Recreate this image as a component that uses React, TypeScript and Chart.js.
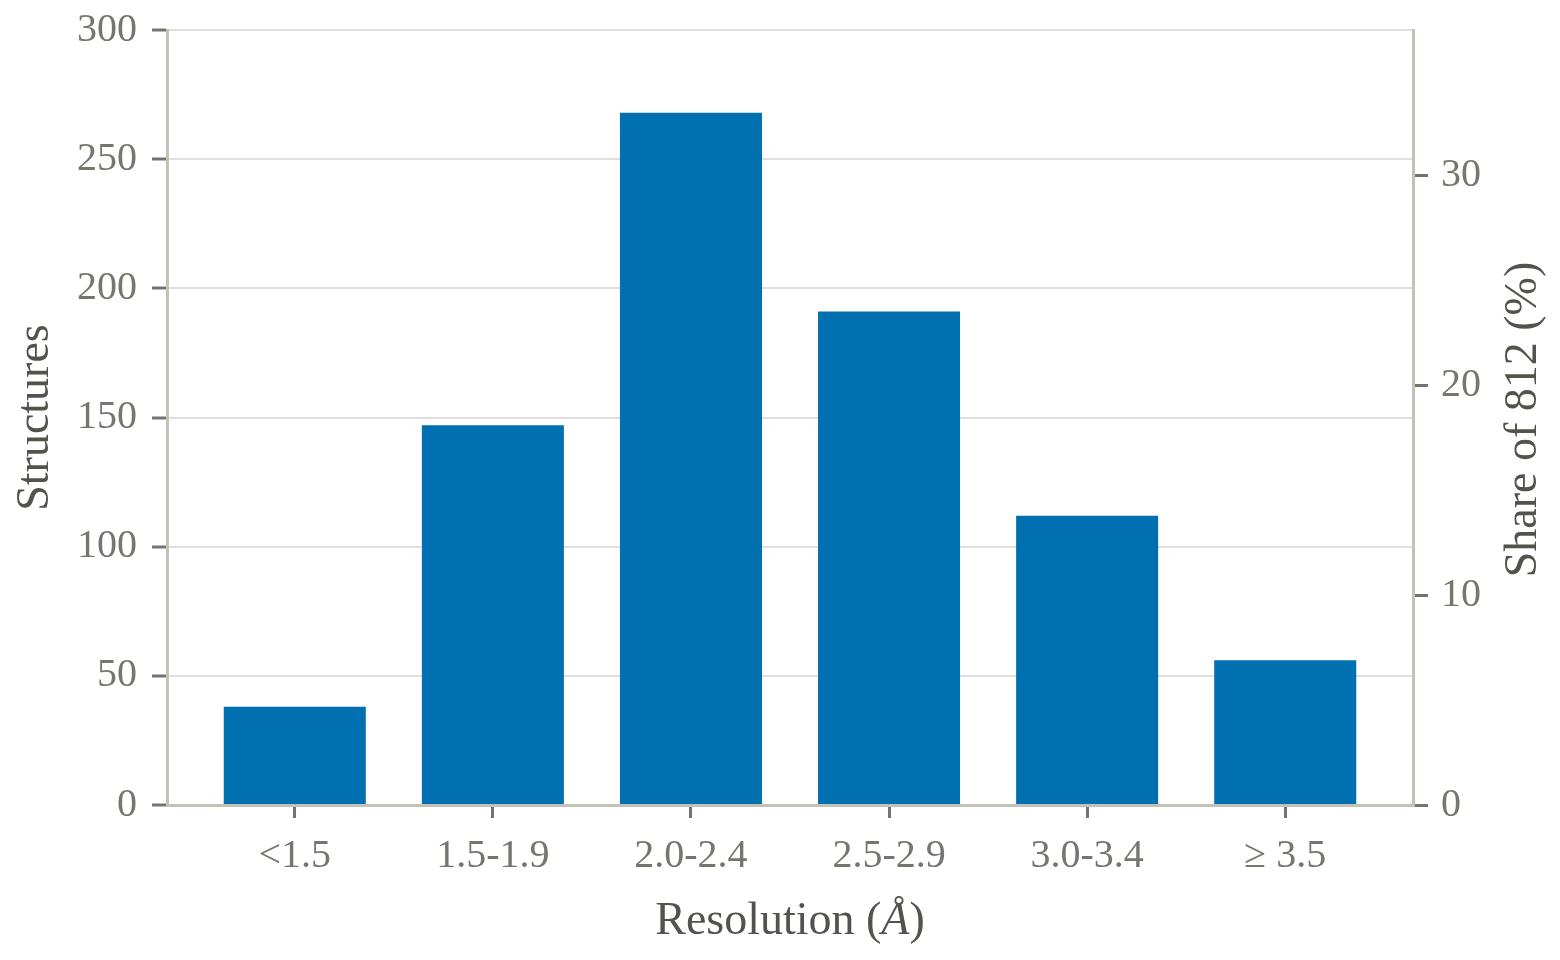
import { useRef, useEffect } from 'react';
import { Chart, registerables, Plugin } from 'chart.js';

Chart.register(...registerables);

// resolution bins and counts
const categories = ['<1.5', '1.5-1.9', '2.0-2.4', '2.5-2.9', '3.0-3.4', '≥ 3.5'];
const counts = [38, 147, 268, 191, 112, 56];
const countTicks = [0, 50, 100, 150, 200, 250, 300];
const shareTicks = [0, 10, 20, 30];
const total = 812;

const FONT = '"Liberation Serif", "Times New Roman", serif';
const TICK_COLOR = '#76766e';
const TITLE_COLOR = '#53534e';
const AXIS_COLOR = '#c2c2b6';
const GRID_COLOR = '#e0e0d8';
const MARK_COLOR = '#74746c';
const BAR_COLOR = '#0070b0';

// fix a scale's box so the plot area lands where the reference has it
const fixBox = (size: { width?: number; height?: number }) => (scale: any) => {
  if (size.width !== undefined) scale.width = size.width;
  if (size.height !== undefined) scale.height = size.height;
  scale.paddingTop = 0;
  scale.paddingBottom = 0;
  scale.paddingLeft = 0;
  scale.paddingRight = 0;
};

// draws the three axis titles (x title has an italic Å, right title reads upward)
const titlesPlugin: Plugin = {
  id: 'titles',
  afterDraw(chart) {
    const { ctx, chartArea } = chart;
    const midY = (chartArea.top + chartArea.bottom) / 2;
    const midX = (chartArea.left + chartArea.right) / 2;
    ctx.save();
    ctx.fillStyle = TITLE_COLOR;
    ctx.textBaseline = 'middle';
    ctx.textAlign = 'center';
    ctx.font = `46px ${FONT}`;

    ctx.save();
    ctx.translate(36, midY);
    ctx.rotate(-Math.PI / 2);
    ctx.fillText('Structures', 0, 0);
    ctx.restore();

    ctx.save();
    ctx.translate(1524, midY + 2);
    ctx.rotate(-Math.PI / 2);
    ctx.fillText(`Share of ${total} (%)`, 0, 0);
    ctx.restore();

    // x title in three parts
    const normal = `46px ${FONT}`;
    const italic = `italic 46px ${FONT}`;
    const parts: [string, string][] = [
      ['Resolution (', normal],
      ['Å', italic],
      [')', normal],
    ];
    let width = 0;
    for (const [t, f] of parts) {
      ctx.font = f;
      width += ctx.measureText(t).width;
    }
    let x = midX - width / 2;
    ctx.textAlign = 'left';
    for (const [t, f] of parts) {
      ctx.font = f;
      ctx.fillText(t, x, 922);
      x += ctx.measureText(t).width;
    }
    ctx.restore();
  },
};

export default function App() {
  const chartRef = useRef<HTMLCanvasElement | null>(null);
  const chartInstance = useRef<Chart | null>(null);

  useEffect(() => {
    if (!chartRef.current) return;
    if (chartInstance.current) chartInstance.current.destroy();
    document.body.style.margin = '0';

    const ctx = chartRef.current.getContext('2d');
    if (!ctx) return;

    chartInstance.current = new Chart(ctx, {
      type: 'bar',
      data: {
        datasets: [
          {
            data: counts.map((v, i) => ({ x: i, y: v })),
            backgroundColor: BAR_COLOR,
            borderWidth: 0,
            categoryPercentage: 1,
            barPercentage: 0.717,
            yAxisID: 'y',
          },
        ],
      },
      options: {
        animation: false,
        responsive: false,
        devicePixelRatio: 1,
        layout: { padding: { top: 30, left: 0, right: 0, bottom: 0 } },
        plugins: {
          legend: { display: false },
          tooltip: { enabled: false },
        },
        scales: {
          x: {
            type: 'linear',
            min: -0.645,
            max: categories.length - 1 + 0.645,
            offset: false,
            afterFit: fixBox({ height: 155 }),
            afterBuildTicks: (scale) => {
              scale.ticks = categories.map((_, i) => ({ value: i }));
            },
            ticks: {
              autoSkip: false,
              maxRotation: 0,
              padding: 14,
              color: TICK_COLOR,
              font: { family: FONT, size: 40 },
              callback: (v) => categories[Number(v)] ?? '',
            },
            grid: {
              offset: false,
              drawOnChartArea: false,
              tickLength: 13,
              tickColor: MARK_COLOR,
              lineWidth: 3,
            },
            border: { color: AXIS_COLOR, width: 3 },
          },
          y: {
            type: 'linear',
            position: 'left',
            min: 0,
            max: 300,
            afterFit: fixBox({ width: 167 }),
            afterBuildTicks: (scale) => {
              scale.ticks = countTicks.map((v) => ({ value: v }));
            },
            ticks: {
              padding: 15,
              color: TICK_COLOR,
              font: { family: FONT, size: 40 },
            },
            grid: {
              color: GRID_COLOR,
              lineWidth: 2,
              tickWidth: 3,
              tickLength: 15,
              tickColor: MARK_COLOR,
            },
            border: { color: AXIS_COLOR, width: 3 },
          },
          y2: {
            type: 'linear',
            position: 'right',
            min: 0,
            max: (300 / total) * 100,
            afterFit: fixBox({ width: 147 }),
            afterBuildTicks: (scale) => {
              scale.ticks = shareTicks.map((v) => ({ value: v }));
            },
            ticks: {
              padding: 13,
              color: TICK_COLOR,
              font: { family: FONT, size: 40 },
            },
            grid: {
              drawOnChartArea: false,
              lineWidth: 3,
              tickLength: 15,
              tickColor: MARK_COLOR,
            },
            border: { color: AXIS_COLOR, width: 3 },
          },
        },
      },
      plugins: [titlesPlugin],
    });

    return () => {
      if (chartInstance.current) {
        chartInstance.current.destroy();
        chartInstance.current = null;
      }
    };
  }, []);

  return (
    <div style={{ position: 'absolute', left: 0, top: 0, width: 1560, height: 960, background: '#fff' }}>
      <canvas ref={chartRef} width={1560} height={960} />
    </div>
  );
}
